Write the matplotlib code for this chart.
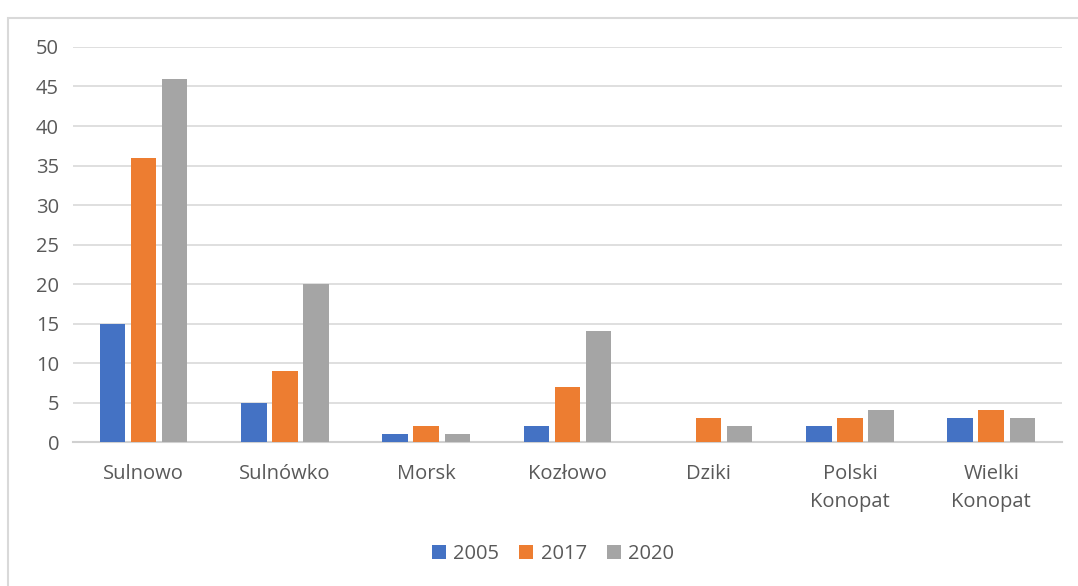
import numpy as np
import matplotlib.pyplot as plt
from matplotlib.patches import Rectangle

categories = ['Sulnowo', 'Sulnówko', 'Morsk', 'Kozłowo', 'Dziki', 'Polski\nKonopat', 'Wielki\nKonopat']
years = ['2005', '2017', '2020']
v2005 = [15, 5, 1, 2, 0, 2, 3]
v2017 = [36, 9, 2, 7, 3, 3, 4]
v2020 = [46, 20, 1, 14, 2, 4, 3]
colors = ['#4472C4', '#ED7D31', '#A5A5A5']

plt.rcParams['font.family'] = ['Open Sans', 'DejaVu Sans']
txt = '#595959'

fig = plt.figure(figsize=(10.78, 5.86), dpi=100)
ax = fig.add_axes([0.0677, 0.2457, 0.9173, 0.6741])

x = np.arange(len(categories))
w = 0.18
step = 0.22
for i, vals in enumerate([v2005, v2017, v2020]):
    ax.bar(x + (i - 1) * step, vals, w, color=colors[i], label=years[i], zorder=3)

ax.set_xlim(-0.5, len(categories) - 0.5)
ax.set_ylim(0, 50)
ax.set_yticks(np.arange(0, 51, 5))
ax.set_xticks(x)
ax.set_xticklabels(categories, fontsize=14.5, color=txt, linespacing=1.55)
ax.tick_params(axis='y', labelsize=14.5, labelcolor=txt, length=0, pad=10)
ax.tick_params(axis='x', length=0, pad=16)
ax.grid(axis='y', color='#d9d9d9', linewidth=1.2, zorder=0)
for s in ['top', 'right', 'left']:
    ax.spines[s].set_visible(False)
ax.spines['bottom'].set_color('#d0d0d0')
ax.spines['bottom'].set_linewidth(1.5)

fig.legend(loc='center', bbox_to_anchor=(0.513, 0.054), ncol=3, frameon=False,
           fontsize=14.5, labelcolor=txt, handlelength=0.7, handleheight=0.7,
           handletextpad=0.35, columnspacing=1.0)

fig.patches.append(Rectangle((8 / 1078, -0.05), 1.1, 0.969 + 0.05, transform=fig.transFigure,
                             fill=False, edgecolor='#d9d9d9', linewidth=1.5))

fig.savefig('out.png', dpi=100)
